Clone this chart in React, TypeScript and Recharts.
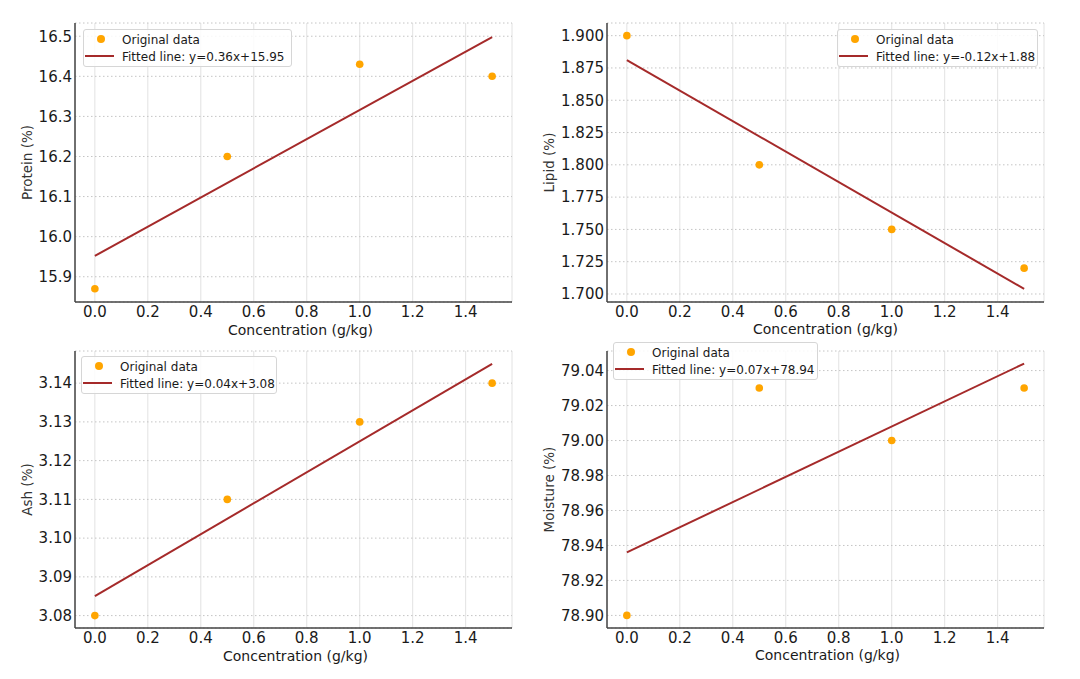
import React from "react";
import { CartesianGrid, ComposedChart, Legend, Line, Scatter, XAxis, YAxis } from "recharts";

const FONT = "'DejaVu Sans', 'Noto Sans', sans-serif";

// shared x values (g/kg) and x ticks
const concentration = [0, 0.5, 1.0, 1.5];
const xTicks = [0, 0.2, 0.4, 0.6, 0.8, 1.0, 1.2, 1.4];

const protein = [15.87, 16.2, 16.43, 16.4];
const proteinFit = [15.952, 16.498];
const proteinTicks = [15.9, 16.0, 16.1, 16.2, 16.3, 16.4, 16.5];

const lipid = [1.9, 1.8, 1.75, 1.72];
const lipidFit = [1.881, 1.704];
const lipidTicks = [1.7, 1.725, 1.75, 1.775, 1.8, 1.825, 1.85, 1.875, 1.9];

const ash = [3.08, 3.11, 3.13, 3.14];
const ashFit = [3.085, 3.145];
const ashTicks = [3.08, 3.09, 3.1, 3.11, 3.12, 3.13, 3.14];

const moisture = [78.9, 79.03, 79.0, 79.03];
const moistureFit = [78.936, 79.044];
const moistureTicks = [78.9, 78.92, 78.94, 78.96, 78.98, 79.0, 79.02, 79.04];

const W = 540;
const H = 340;

interface PanelProps {
  left: number;
  top: number;
  values: number[];
  fit: number[];
  yTicks: number[];
  yDomain: [number, number];
  digits: number;
  yLabel: string;
  fitLabel: string;
  plot: { left: number; right: number; top: number; bottom: number };
  legend: { left: number; top: number; width: number };
  xLabelOffset: number;
  xLabelDx: number;
  yLabelX: number;
}

function LegendBox({ label, width }: { label: string; width: number }) {
  return (
    <div
      style={{
        position: "relative",
        width,
        height: 38,
        boxSizing: "border-box",
        border: "1px solid #d6d6d6",
        borderRadius: 3,
        background: "rgba(255,255,255,0.85)",
        fontFamily: FONT,
        fontSize: 12,
        color: "#1a1a1a",
        whiteSpace: "nowrap"
      }}
    >
      <span
        style={{ position: "absolute", left: 13, top: 5, width: 8, height: 8, borderRadius: "50%", background: "#ffa500" }}
      />
      <span style={{ position: "absolute", left: 38, top: 3, lineHeight: "14px" }}>Original data</span>
      <span style={{ position: "absolute", left: 1, top: 25, width: 29, height: 2, background: "#a52a2a" }} />
      <span style={{ position: "absolute", left: 38, top: 20, lineHeight: "14px" }}>{label}</span>
    </div>
  );
}

const dotShape = (p: any) => <circle cx={p.cx} cy={p.cy} r={3.8} fill="#ffa500" />;

function Panel(props: PanelProps) {
  const { values, fit, plot } = props;
  const last = concentration.length - 1;
  const rows = concentration.map((x, i) => ({
    x,
    value: values[i],
    fit: i === 0 ? fit[0] : i === last ? fit[1] : null
  }));
  const tickStyle = { fontSize: 15, fontFamily: FONT, fill: "#1a1a1a" };
  return (
    <div style={{ position: "absolute", left: props.left, top: props.top, width: W, height: H }}>
      <ComposedChart
        width={W}
        height={H}
        data={rows}
        margin={{ top: plot.top, right: W - plot.right, left: 0, bottom: 0 }}
      >
        <CartesianGrid horizontal={false} stroke="#e2e2e2" />
        <CartesianGrid vertical={false} stroke="#c4c4c4" strokeDasharray="1.5 2.5" />
        <XAxis
          type="number"
          dataKey="x"
          domain={[-0.075, 1.575]}
          allowDataOverflow
          ticks={xTicks}
          interval={0}
          height={H - plot.bottom}
          tickSize={0}
          tickMargin={4}
          tickLine={false}
          axisLine={{ stroke: "#444", strokeWidth: 1.5 }}
          tick={tickStyle}
          tickFormatter={(v) => Number(v).toFixed(1)}
          label={{
            value: "Concentration (g/kg)",
            position: "insideBottom",
            offset: props.xLabelOffset,
            dx: props.xLabelDx,
            fill: "#1a1a1a",
            style: { fontSize: 14, fontFamily: FONT, fill: "#1a1a1a" }
          }}
        />
        <YAxis
          type="number"
          domain={props.yDomain}
          allowDataOverflow
          ticks={props.yTicks}
          interval={0}
          width={plot.left}
          tickSize={0}
          tickMargin={3}
          tickLine={false}
          axisLine={{ stroke: "#444", strokeWidth: 1.5 }}
          tick={tickStyle}
          tickFormatter={(v) => Number(v).toFixed(props.digits)}
          label={{
            value: props.yLabel,
            angle: -90,
            position: "insideLeft",
            offset: props.yLabelX,
            style: { fontSize: 13.5, fontFamily: FONT, fill: "#333", textAnchor: "middle" }
          }}
        />
        <Line
          dataKey="fit"
          type="linear"
          stroke="#a52a2a"
          strokeWidth={2}
          dot={false}
          activeDot={false}
          connectNulls
          isAnimationActive={false}
        />
        <Scatter dataKey="value" fill="#ffa500" shape={dotShape} isAnimationActive={false} />
        <Legend
          layout="vertical"
          align="center"
          verticalAlign="middle"
          wrapperStyle={{ left: props.legend.left, top: props.legend.top, width: props.legend.width, height: 38 }}
          content={() => <LegendBox label={props.fitLabel} width={props.legend.width} />}
        />
      </ComposedChart>
    </div>
  );
}

export default function App() {
  return (
    <div style={{ position: "absolute", left: 0, top: 0, width: 1080, height: 679, background: "#fff", overflow: "hidden" }}>
      <Panel
        left={0}
        top={0}
        values={protein}
        fit={proteinFit}
        yTicks={proteinTicks}
        yDomain={[15.837, 16.533]}
        digits={1}
        yLabel="Protein (%)"
        fitLabel="Fitted line: y=0.36x+15.95"
        plot={{ left: 75, right: 512, top: 23, bottom: 302 }}
        legend={{ left: 83, top: 29, width: 209 }}
        xLabelOffset={5}
        xLabelDx={7}
        yLabelX={27}
      />
      <Panel
        left={540}
        top={0}
        values={lipid}
        fit={lipidFit}
        yTicks={lipidTicks}
        yDomain={[1.6938, 1.9098]}
        digits={3}
        yLabel="Lipid (%)"
        fitLabel="Fitted line: y=-0.12x+1.88"
        plot={{ left: 67, right: 504, top: 23, bottom: 302 }}
        legend={{ left: 297, top: 29, width: 201 }}
        xLabelOffset={6}
        xLabelDx={0}
        yLabelX={9}
      />
      <Panel
        left={0}
        top={339}
        values={ash}
        fit={ashFit}
        yTicks={ashTicks}
        yDomain={[3.0768, 3.1483]}
        digits={2}
        yLabel="Ash (%)"
        fitLabel="Fitted line: y=0.04x+3.08"
        plot={{ left: 75, right: 512, top: 12, bottom: 289 }}
        legend={{ left: 81, top: 17, width: 196 }}
        xLabelOffset={18}
        xLabelDx={2}
        yLabelX={27}
      />
      <Panel
        left={540}
        top={339}
        values={moisture}
        fit={moistureFit}
        yTicks={moistureTicks}
        yDomain={[78.8928, 79.0512]}
        digits={2}
        yLabel="Moisture (%)"
        fitLabel="Fitted line: y=0.07x+78.94"
        plot={{ left: 67, right: 504, top: 12, bottom: 289 }}
        legend={{ left: 73, top: 3, width: 205 }}
        xLabelOffset={19}
        xLabelDx={2}
        yLabelX={9}
      />
    </div>
  );
}
